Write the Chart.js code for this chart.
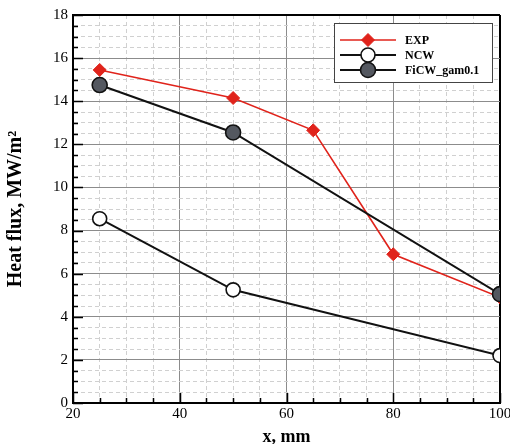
<!DOCTYPE html>
<html>
<head>
<meta charset="utf-8">
<script src="https://cdn.jsdelivr.net/npm/chart.js@4/dist/chart.umd.min.js"></script>
<style>
  html, body { margin: 0; padding: 0; background: #fff; }
  #wrap { width: 510px; height: 444px; position: relative; }
</style>
</head>
<body>
<div id="wrap"><canvas id="chart-output"></canvas></div>
<script>
// data
var xExp = [25, 50, 65, 80, 100];
var yExp = [15.45, 14.15, 12.65, 6.9, 4.9];
var xNcw = [25, 50, 100];
var yNcw = [8.55, 5.25, 2.2];
var xFicw = [25, 50, 100];
var yFicw = [14.75, 12.55, 5.05];
var seriesNames = ["EXP", "NCW", "FiCW_gam0.1"];
var xTickLabels = [20, 40, 60, 80, 100];
var yTickLabels = [0, 2, 4, 6, 8, 10, 12, 14, 16, 18];

function pts(xs, ys) {
  return xs.map(function (x, i) { return { x: x, y: ys[i] }; });
}

var RED = "#e0231b";
var SERIF = "'Liberation Serif', 'DejaVu Serif', serif";

// inner tick marks on the left and bottom axes
var innerTicks = {
  id: "innerTicks",
  beforeDatasetsDraw: function (chart) {
    var c = chart.ctx, a = chart.chartArea;
    var xs = chart.scales.x, ys = chart.scales.y;
    c.save();
    c.strokeStyle = "#000";
    c.lineWidth = 1.5;
    c.beginPath();
    ys.ticks.forEach(function (t) {
      var p = Math.round(ys.getPixelForValue(t.value)) + 0.5;
      var len = t.value % 2 === 0 ? 10 : 5;
      c.moveTo(a.left, p); c.lineTo(a.left + len, p);
    });
    xs.ticks.forEach(function (t) {
      var p = Math.round(xs.getPixelForValue(t.value)) + 0.5;
      var len = t.value % 20 === 0 ? 10 : 5;
      c.moveTo(p, a.bottom); c.lineTo(p, a.bottom - len);
    });
    c.stroke();
    c.restore();
  }
};

// boxed legend in the upper right corner
var boxLegend = {
  id: "boxLegend",
  afterDraw: function (chart) {
    var c = chart.ctx;
    var bx = 334, by = 23, bw = 158, bh = 59;
    c.save();
    c.fillStyle = "#fff";
    c.fillRect(bx, by, bw, bh);
    c.strokeStyle = "#444";
    c.lineWidth = 1;
    c.strokeRect(bx + 0.5, by + 0.5, bw, bh);
    var rows = [40, 55, 70];
    chart.data.datasets.forEach(function (ds, i) {
      var y = rows[i];
      c.strokeStyle = ds.borderColor;
      c.lineWidth = ds.borderWidth;
      c.beginPath(); c.moveTo(340, y); c.lineTo(396, y); c.stroke();
      c.fillStyle = ds.pointBackgroundColor;
      c.strokeStyle = ds.pointBorderColor;
      c.lineWidth = ds.pointBorderWidth;
      var r = ds.pointRadius, mx = 368;
      c.beginPath();
      if (ds.pointStyle === "rectRot") {
        c.moveTo(mx - r, y); c.lineTo(mx, y - r); c.lineTo(mx + r, y); c.lineTo(mx, y + r);
        c.closePath();
      } else {
        c.arc(mx, y, r, 0, Math.PI * 2);
      }
      c.fill(); c.stroke();
      c.fillStyle = "#000";
      c.font = "bold 12px " + SERIF;
      c.textBaseline = "middle";
      c.fillText(ds.label, 405, y + 1);
    });
    c.restore();
  }
};

var data = {
  datasets: [
    {
      label: seriesNames[0],
      data: pts(xExp, yExp),
      borderColor: RED,
      borderWidth: 1.6,
      pointStyle: "rectRot",
      pointRadius: 6.5,
      pointBackgroundColor: RED,
      pointBorderColor: RED,
      pointBorderWidth: 1,
      order: 1
    },
    {
      label: seriesNames[1],
      data: pts(xNcw, yNcw),
      borderColor: "#111",
      borderWidth: 2,
      pointStyle: "circle",
      pointRadius: 7,
      pointBackgroundColor: "#fff",
      pointBorderColor: "#111",
      pointBorderWidth: 1.6,
      order: 2
    },
    {
      label: seriesNames[2],
      data: pts(xFicw, yFicw),
      borderColor: "#111",
      borderWidth: 2,
      pointStyle: "circle",
      pointRadius: 7.5,
      pointBackgroundColor: "#545860",
      pointBorderColor: "#111",
      pointBorderWidth: 1.6,
      order: 0
    }
  ]
};

var options = {
  responsive: true,
  maintainAspectRatio: false,
  animation: false,
  layout: { padding: { left: 0, right: 10, top: 15, bottom: 0 } },
  plugins: { legend: { display: false }, tooltip: { enabled: false } },
  scales: {
    x: {
      type: "linear",
      min: 20, max: 100,
      afterFit: function (s) { s.height = 41; s.paddingLeft = 0; s.paddingRight = 0; },
      ticks: {
        stepSize: 5,
        autoSkip: false,
        maxRotation: 0,
        padding: 2,
        color: "#000",
        font: { family: SERIF, size: 15 },
        callback: function (v) { return xTickLabels.indexOf(v) >= 0 ? String(v) : ""; }
      },
      grid: {
        drawTicks: false,
        color: function (ctx) {
          var v = ctx.tick ? ctx.tick.value : 0;
          if (v === 20) return "rgba(0,0,0,0)";
          if (v === 100) return "#000";
          return v % 20 === 0 ? "#8c8c8c" : "#d0d0d0";
        },
        lineWidth: function (ctx) {
          var v = ctx.tick ? ctx.tick.value : 0;
          return v === 100 ? 2 : 1;
        }
      },
      border: {
        display: true, color: "#000", width: 2,
        dash: function (ctx) {
          var v = ctx.tick ? ctx.tick.value : 20;
          return v % 20 === 0 ? [] : [4, 3];
        }
      },
      title: {
        display: true,
        text: "x, mm",
        color: "#000",
        font: { family: SERIF, size: 18, weight: "bold" },
        padding: { top: 0, bottom: -4 }
      }
    },
    y: {
      type: "linear",
      min: 0, max: 18,
      afterFit: function (s) { s.width = 73; s.paddingTop = 0; s.paddingBottom = 0; },
      ticks: {
        stepSize: 0.5,
        autoSkip: false,
        padding: 5,
        color: "#000",
        font: { family: SERIF, size: 15 },
        callback: function (v) { return yTickLabels.indexOf(v) >= 0 ? String(v) : ""; }
      },
      grid: {
        drawTicks: false,
        color: function (ctx) {
          var v = ctx.tick ? ctx.tick.value : 0;
          if (v === 0) return "rgba(0,0,0,0)";
          if (v === 18) return "#000";
          return v % 2 === 0 ? "#8c8c8c" : "#d0d0d0";
        },
        lineWidth: function (ctx) {
          var v = ctx.tick ? ctx.tick.value : 0;
          return v === 18 ? 2 : 1;
        }
      },
      border: {
        display: true, color: "#000", width: 2,
        dash: function (ctx) {
          var v = ctx.tick ? ctx.tick.value : 0;
          return v % 2 === 0 ? [] : [4, 3];
        }
      },
      title: {
        display: true,
        text: "Heat flux, MW/m²",
        color: "#000",
        font: { family: SERIF, size: 20, weight: "bold" },
        padding: { top: 4, bottom: 0 }
      }
    }
  }
};

var ctx = document.getElementById("chart-output");
var myChart = new Chart(ctx, {
  type: "line",
  data: data,
  options: options,
  plugins: [innerTicks, boxLegend]
});
</script>
</body>
</html>
